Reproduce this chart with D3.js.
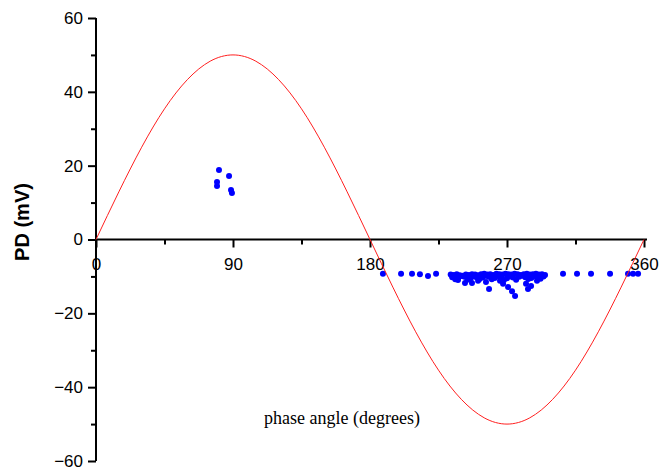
<!DOCTYPE html>
<html><head><meta charset="utf-8">
<script src="https://cdn.jsdelivr.net/npm/d3@7"></script>
<style>body{margin:0;background:#fff}svg{display:block}</style>
</head><body><svg id="c" width="664" height="472"></svg>
<script>
// x ticks (phase angle, degrees) and y ticks (PD, mV)
const xTicks = [0, 90, 180, 270, 360];
const xMinorTicks = [45, 135, 225, 315];
const yTicks = [-60, -40, -20, 0, 20, 40, 60];
const yMinorTicks = [-50, -30, -10, 10, 30, 50];

// Reference sine curve (degrees, mV)
const sineDeg = [0,15,30,45,60,75,90,105,120,135,150,165,180,195,210,225,240,255,270,285,300,315,330,345,360];
const sineMv  = [0,12.9,25,35.4,43.3,48.3,50,48.3,43.3,35.4,25,12.9,0,-12.9,-25,-35.4,-43.3,-48.3,-50,-48.3,-43.3,-35.4,-25,-12.9,0];

// PD pulses: phase (deg) and amplitude (mV)
const pdDeg = [80.8,87.4,79.5,79.5,88.7,89.3,
  188.5,200.4,207.6,212.8,218.1,223.4,
  233,235,237,239,241,243,245,247,249,251,253,255,257,259,261,263,265,267,269,271,273,275,277,279,281,283,285,287,289,291,293,295,
  234,238,242,246,250,254,258,262,266,270,274,278,282,286,290,294,
  236,244,252,260,268,276,284,292,
  240,248,256,264,272,280,288,
  237.8,242.4,247,251,258.2,256.2,265.4,267.4,270.7,273.3,275.3,282.5,283.8,285.8,289.7,
  306.8,316,325.2,337.7,349.5,352.8,356.1];
const pdMv = [18.8,17.2,15.6,14.5,13.4,12.6,
  -9.3,-9.3,-9.3,-9.4,-9.9,-9.3,
  -9.5,-9.6,-9.4,-9.7,-9.8,-9.5,-9.6,-9.4,-9.5,-9.7,-9.4,-9.3,-9.5,-9.4,-9.6,-9.3,-9.4,-9.5,-9.3,-9.4,-9.5,-9.3,-9.4,-9.6,-9.4,-9.3,-9.5,-9.4,-9.3,-9.5,-9.4,-9.6,
  -10.2,-10.4,-10.1,-10.5,-10.2,-10.3,-10.1,-10.4,-10.2,-10.5,-10.3,-10.1,-10.2,-10.4,-10.3,-10.0,
  -10.8,-10.9,-10.7,-10.8,-11.0,-10.9,-10.7,-10.6,
  -9.9,-10.0,-9.8,-9.9,-10.0,-9.8,-9.9,
  -11,-11.8,-11.8,-11.2,-13.4,-11.5,-11.2,-12,-12.9,-14,-15.3,-12,-13.4,-12.6,-11.2,
  -9.3,-9.3,-9.3,-9.3,-9.3,-9.3,-9.3];

const svg = d3.select("#c");
const x = d3.scaleLinear().domain([0, 360]).range([96, 644]);
const y = d3.scaleLinear().domain([-60, 60]).range([461, 18]);

const font = "'Liberation Sans', Arial, sans-serif";

// Y axis
const yAxis = svg.append("g").attr("transform", `translate(${x(0)},0)`)
  .call(d3.axisLeft(y).tickValues(yTicks).tickSize(8).tickPadding(5).tickFormat(d3.format("d")));
yAxis.select(".domain").attr("d", `M0,${y(60)}V${y(-60)}`).attr("stroke-width", 2);
yAxis.selectAll(".tick line").attr("stroke-width", 2);
yAxis.selectAll(".tick text").attr("font-family", font).attr("font-size", 17).attr("fill", "#000");
svg.append("g").attr("transform", `translate(${x(0)},0)`)
  .call(d3.axisLeft(y).tickValues(yMinorTicks).tickSize(5).tickFormat(""))
  .call(g => g.select(".domain").remove())
  .selectAll("line").attr("stroke-width", 2);

// X axis at y = 0
const xAxis = svg.append("g").attr("transform", `translate(0,${y(0)})`)
  .call(d3.axisBottom(x).tickValues(xTicks).tickSize(8).tickPadding(10).tickFormat(d3.format("d")));
xAxis.select(".domain").attr("d", `M${x(0)},0H${x(360) + 3}`).attr("stroke-width", 2);
xAxis.selectAll(".tick line").attr("stroke-width", 2);
xAxis.selectAll(".tick text").attr("font-family", font).attr("font-size", 17).attr("fill", "#000");
svg.append("g").attr("transform", `translate(0,${y(0)})`)
  .call(d3.axisBottom(x).tickValues(xMinorTicks).tickSize(5).tickFormat(""))
  .call(g => g.select(".domain").remove())
  .selectAll("line").attr("stroke-width", 2);

// PD points
svg.append("g").selectAll("circle").data(pdDeg.map((d, i) => [d, pdMv[i]])).join("circle")
  .attr("cx", d => x(d[0])).attr("cy", d => y(d[1])).attr("r", 3).attr("fill", "#0000ff");

// Sine
const sine = sineDeg.map((d, i) => [d, sineMv[i]]);
svg.append("path").datum(sine)
  .attr("d", d3.line().x(d => x(d[0])).y(d => y(d[1])).curve(d3.curveNatural))
  .attr("fill", "none").attr("stroke", "#ff2020").attr("stroke-width", 1);

// Titles
svg.append("text").attr("transform", "translate(29,222) rotate(-90)")
  .attr("text-anchor", "middle").attr("font-family", font).attr("font-weight", "bold")
  .attr("font-size", 20).text("PD (mV)");
svg.append("text").attr("x", 342).attr("y", 424).attr("text-anchor", "middle")
  .attr("font-family", "'Liberation Serif', 'Times New Roman', serif").attr("font-size", 18)
  .text("phase angle (degrees)");
</script></body></html>
